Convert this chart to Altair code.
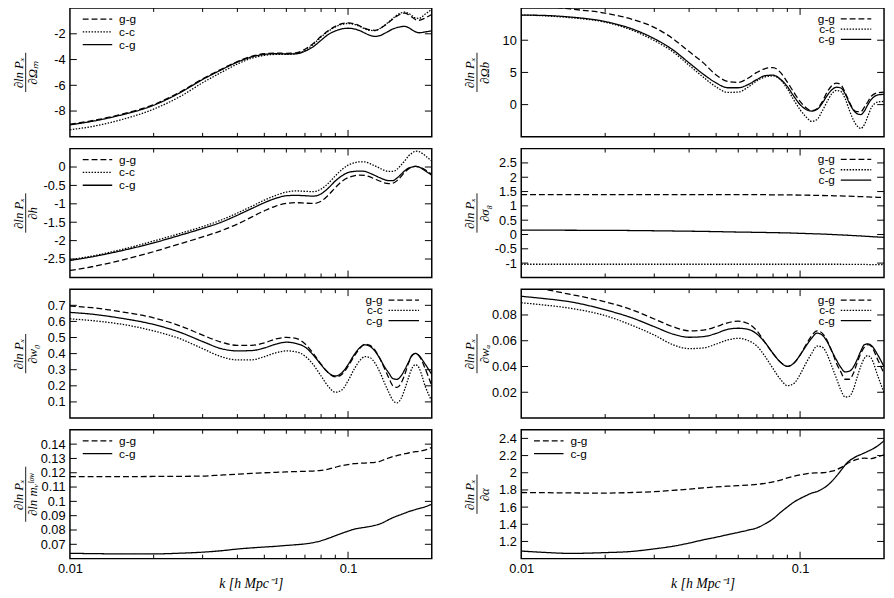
import altair as alt
import pandas as pd

K = [0.01, 0.012, 0.015, 0.02, 0.025, 0.03, 0.035, 0.04, 0.045, 0.05, 0.055, 0.06, 0.065,
     0.07, 0.075, 0.08, 0.085, 0.09, 0.095, 0.1, 0.105, 0.11, 0.115, 0.12, 0.125, 0.13,
     0.135, 0.14, 0.145, 0.15, 0.155, 0.16, 0.165, 0.17, 0.175, 0.18, 0.19, 0.2]

# d ln P / d Omega_m
OM_GG = [-9.02, -8.75, -8.3, -7.5, -6.5, -5.5, -4.75, -4.15, -3.75, -3.55, -3.5, -3.52, -3.48,
         -3.2, -2.75, -2.2, -1.75, -1.42, -1.22, -1.15, -1.22, -1.38, -1.58, -1.7, -1.73, -1.6,
         -1.38, -1.12, -0.85, -0.62, -0.45, -0.4, -0.52, -0.72, -0.9, -0.95, -0.75, -0.5]
OM_CC = [-9.45, -9.2, -8.72, -7.85, -6.85, -5.8, -5.0, -4.35, -3.9, -3.68, -3.6, -3.6, -3.55,
         -3.3, -2.82, -2.25, -1.8, -1.47, -1.27, -1.2, -1.26, -1.42, -1.62, -1.74, -1.75, -1.6,
         -1.36, -1.08, -0.8, -0.55, -0.38, -0.32, -0.42, -0.6, -0.78, -0.8, -0.45, -0.1]
OM_CG = [-9.07, -8.8, -8.35, -7.55, -6.55, -5.55, -4.8, -4.2, -3.8, -3.6, -3.55, -3.57, -3.55,
         -3.35, -3.0, -2.5, -2.05, -1.78, -1.62, -1.57, -1.62, -1.75, -1.95, -2.12, -2.2, -2.15,
         -1.98, -1.8, -1.62, -1.52, -1.45, -1.42, -1.52, -1.7, -1.85, -1.92, -1.85, -1.77]

# d ln P / d h
H_GG = [-2.81, -2.71, -2.55, -2.3, -2.08, -1.9, -1.73, -1.55, -1.36, -1.19, -1.06, -0.99, -0.97,
        -0.98, -0.99, -0.93, -0.76, -0.56, -0.39, -0.29, -0.24, -0.22, -0.23, -0.27, -0.33, -0.38,
        -0.43, -0.45, -0.44, -0.37, -0.26, -0.14, -0.05, 0.0, 0.02, 0.0, -0.08, -0.2]
H_CC = [-2.52, -2.42, -2.26, -2.01, -1.8, -1.62, -1.44, -1.25, -1.07, -0.9, -0.77, -0.68, -0.65,
        -0.66, -0.67, -0.6, -0.44, -0.24, -0.07, 0.05, 0.11, 0.14, 0.14, 0.09, 0.03, -0.03,
        -0.09, -0.12, -0.12, -0.06, 0.05, 0.17, 0.3, 0.38, 0.43, 0.42, 0.3, 0.16]
H_CG = [-2.54, -2.44, -2.29, -2.06, -1.85, -1.67, -1.5, -1.31, -1.13, -0.97, -0.85, -0.78, -0.77,
        -0.78, -0.79, -0.73, -0.57, -0.38, -0.24, -0.15, -0.12, -0.11, -0.12, -0.17, -0.23, -0.29,
        -0.34, -0.37, -0.37, -0.3, -0.2, -0.1, -0.03, 0.0, 0.02, 0.0, -0.11, -0.22]

# d ln P / d w0
W0_GG = [0.696, 0.685, 0.662, 0.622, 0.571, 0.515, 0.471, 0.451, 0.451, 0.467, 0.491, 0.501, 0.495,
         0.461, 0.401, 0.335, 0.281, 0.255, 0.271, 0.321, 0.381, 0.431, 0.459, 0.451, 0.421, 0.371,
         0.311, 0.251, 0.2, 0.19, 0.215, 0.271, 0.341, 0.387, 0.401, 0.387, 0.301, 0.2]
W0_CC = [0.616, 0.605, 0.585, 0.541, 0.491, 0.431, 0.381, 0.361, 0.361, 0.381, 0.405, 0.417, 0.411,
         0.385, 0.331, 0.261, 0.195, 0.16, 0.174, 0.231, 0.301, 0.355, 0.381, 0.375, 0.341, 0.287,
         0.221, 0.161, 0.11, 0.094, 0.12, 0.18, 0.251, 0.311, 0.331, 0.311, 0.191, 0.106]
W0_CG = [0.656, 0.645, 0.622, 0.581, 0.531, 0.475, 0.431, 0.417, 0.419, 0.435, 0.459, 0.471, 0.463,
         0.441, 0.391, 0.331, 0.281, 0.261, 0.281, 0.331, 0.391, 0.435, 0.455, 0.445, 0.415, 0.371,
         0.321, 0.281, 0.245, 0.24, 0.261, 0.301, 0.347, 0.391, 0.401, 0.387, 0.331, 0.271]

# d ln P / d ln m_nu^low
MN_GG = [0.1173, 0.1173, 0.1173, 0.1174, 0.1175, 0.1177, 0.1184, 0.119, 0.1195, 0.12, 0.1203, 0.1206,
         0.1208, 0.121, 0.1212, 0.1217, 0.1225, 0.1238, 0.125, 0.1257, 0.1263, 0.1266, 0.1268, 0.127,
         0.1273, 0.128, 0.1292, 0.1303, 0.1313, 0.132, 0.1327, 0.1333, 0.1338, 0.1343, 0.1347, 0.135,
         0.136, 0.1377]
MN_CG = [0.0637, 0.0635, 0.0633, 0.0633, 0.0638, 0.0645, 0.0655, 0.0667, 0.0675, 0.0681, 0.0686, 0.0692,
         0.0697, 0.0703, 0.0712, 0.0725, 0.0742, 0.076, 0.0777, 0.0792, 0.0805, 0.0813, 0.0819, 0.0825,
         0.0832, 0.0842, 0.0856, 0.0872, 0.0886, 0.0898, 0.0908, 0.0918, 0.0928, 0.0936, 0.0943, 0.095,
         0.0963, 0.0981]

# d ln P / d Omega_b
OB_GG = [15.6, 15.3, 14.85, 14.2, 13.25, 12.0, 10.24, 8.23, 6.48, 4.6, 3.6, 3.45, 4.1,
         5.0, 5.6, 5.75, 5.0, 3.5, 1.9, 0.5, -0.5, -0.95, -0.65, 0.45, 1.95, 2.95,
         3.35, 3.1, 1.9, 0.45, -0.7, -1.1, -1.1, -0.4, 0.45, 1.3, 1.85, 1.95]
OB_CC = [13.9, 13.8, 13.5, 12.8, 11.55, 9.95, 8.2, 6.1, 4.25, 2.75, 1.9, 1.95, 2.7,
         3.7, 4.3, 4.45, 3.85, 2.45, 0.7, -0.8, -1.9, -2.6, -2.3, -1.0, 0.45, 1.7,
         2.2, 2.05, 0.95, -0.8, -2.3, -3.3, -3.7, -3.1, -1.8, -0.5, 0.4, 0.5]
OB_CG = [13.9, 13.85, 13.6, 12.9, 11.75, 10.24, 8.5, 6.48, 4.72, 3.37, 2.62, 2.62, 3.1,
         3.9, 4.5, 4.57, 3.95, 2.8, 1.3, 0.0, -0.75, -1.0, -0.75, 0.2, 1.4, 2.3,
         2.7, 2.6, 1.7, 0.3, -0.8, -1.4, -1.55, -1.0, 0.0, 0.8, 1.5, 1.6]

# d ln P / d sigma_8
S8_GG = [1.39, 1.39, 1.39, 1.39, 1.39, 1.39, 1.39, 1.39, 1.39, 1.39, 1.39, 1.39, 1.39,
         1.39, 1.39, 1.385, 1.383, 1.381, 1.38, 1.378, 1.374, 1.37, 1.366, 1.362, 1.358, 1.354,
         1.35, 1.346, 1.342, 1.338, 1.333, 1.328, 1.323, 1.318, 1.313, 1.308, 1.3, 1.29]
S8_CC = [-1.04, -1.04, -1.04, -1.04, -1.04, -1.04, -1.04, -1.04, -1.04, -1.04, -1.04, -1.04, -1.04,
         -1.04, -1.04, -1.04, -1.04, -1.04, -1.04, -1.04, -1.04, -1.04, -1.04, -1.04, -1.04, -1.04,
         -1.04, -1.04, -1.045, -1.045, -1.045, -1.045, -1.045, -1.045, -1.05, -1.05, -1.05, -1.05]
S8_CG = [0.15, 0.15, 0.148, 0.145, 0.138, 0.13, 0.122, 0.115, 0.108, 0.1, 0.092, 0.085, 0.08,
         0.075, 0.07, 0.065, 0.06, 0.055, 0.048, 0.04, 0.034, 0.027, 0.021, 0.015, 0.008, 0.0,
         -0.008, -0.015, -0.022, -0.03, -0.038, -0.045, -0.052, -0.06, -0.067, -0.075, -0.088, -0.1]

# d ln P / d w_a
WA_GG = [0.1025, 0.1, 0.096, 0.0902, 0.084, 0.0769, 0.0709, 0.0677, 0.0682, 0.0709, 0.0739, 0.0752,
         0.0734, 0.0677, 0.0584, 0.0501, 0.0434, 0.0401, 0.0426, 0.0489, 0.0569, 0.0639, 0.0677, 0.0659,
         0.0602, 0.0519, 0.0426, 0.0358, 0.0301, 0.0301, 0.0343, 0.0426, 0.0501, 0.0551, 0.0569, 0.0556,
         0.0451, 0.0345]
WA_CC = [0.0895, 0.0878, 0.0852, 0.0795, 0.0719, 0.0644, 0.0569, 0.0539, 0.0544, 0.0574, 0.0606, 0.0619,
         0.0602, 0.0559, 0.0476, 0.0383, 0.0301, 0.0251, 0.0268, 0.0338, 0.0426, 0.0501, 0.0559, 0.0551,
         0.0494, 0.0401, 0.0308, 0.0218, 0.0163, 0.0168, 0.0218, 0.0313, 0.0401, 0.0464, 0.0484, 0.0464,
         0.0326, 0.0195]
WA_CG = [0.0945, 0.0928, 0.0902, 0.084, 0.0777, 0.0709, 0.0652, 0.0627, 0.0632, 0.0657, 0.0689, 0.0697,
         0.0689, 0.0652, 0.0584, 0.0501, 0.0434, 0.0401, 0.0426, 0.0489, 0.0559, 0.0619, 0.0659, 0.0644,
         0.0594, 0.0519, 0.0451, 0.0393, 0.0358, 0.0363, 0.0393, 0.0451, 0.0519, 0.0569, 0.0576, 0.0564,
         0.0489, 0.0398]

# d ln P / d alpha
AL_GG = [1.77, 1.768, 1.765, 1.763, 1.77, 1.78, 1.795, 1.81, 1.825, 1.835, 1.843, 1.85, 1.857,
         1.864, 1.877, 1.894, 1.915, 1.94, 1.96, 1.976, 1.988, 1.995, 1.998, 2.0, 2.007, 2.018,
         2.035, 2.06, 2.09, 2.12, 2.14, 2.156, 2.165, 2.17, 2.168, 2.165, 2.186, 2.21]
AL_CG = [1.088, 1.073, 1.061, 1.07, 1.084, 1.114, 1.144, 1.181, 1.219, 1.249, 1.279, 1.305, 1.331,
         1.358, 1.406, 1.463, 1.537, 1.601, 1.658, 1.699, 1.733, 1.763, 1.781, 1.811, 1.849, 1.901,
         1.961, 2.025, 2.089, 2.138, 2.168, 2.194, 2.212, 2.231, 2.25, 2.269, 2.314, 2.374]

X_MINOR = [0.02, 0.03, 0.04, 0.05, 0.06, 0.07, 0.08, 0.09]
X_MAJOR = [0.1]
X_LABELS = [0.01, 0.1]

DASH = {"g-g": [6, 3], "c-c": [1.5, 1.5], "c-g": [1, 0]}

LW, RW, H = 368, 369, 131
TX = -52.5   # numerator line of the stacked y title (denominator sits 15 px to the right)
BX = -45     # fraction bar


def long_df(series):
    rows = []
    for name, vals in series.items():
        for k, v in zip(K, vals):
            rows.append({"k": k, "value": v, "series": name})
    return pd.DataFrame(rows)


def panel(series, yticks, ydomain, num, den, barlen, orient, W, bottom):
    df = long_df(series)
    names = list(series.keys())
    xscale = alt.Scale(type="log", domain=[0.01, 0.2], nice=False)
    yscale = alt.Scale(domain=ydomain, nice=False, zero=False)
    dscale = alt.Scale(domain=names, range=[DASH[n] for n in names])
    if bottom:
        xaxis = alt.Axis(values=X_LABELS, format="~g", ticks=False, domain=False, grid=False,
                         labelPadding=4, labelFlush=False, title="k [h Mpc⁻¹]", titlePadding=1,
                         titleFont="Liberation Serif", titleFontSize=14, titleFontWeight="normal",
                         titleFontStyle="italic")
    else:
        xaxis = None
    yaxis = alt.Axis(values=yticks, format="~g", ticks=False, domain=False, grid=False, labelPadding=5,
                     labelExpr="replace(datum.label, '−', '-')",
                     title=[num, den], titleX=TX, titleY=H / 2, titleAngle=270,
                     titleAlign="center", titleBaseline="middle")
    if orient == "top-left":
        leg = alt.Legend(title=None, orient="none", legendX=12, legendY=6, symbolType="stroke",
                         symbolSize=900, symbolStrokeWidth=1.3, symbolStrokeColor="black",
                         clipHeight=10.5, rowPadding=0, padding=0, labelFontSize=12, labelOffset=6)
    else:
        leg = None
    lines = alt.Chart(df).mark_line(clip=True, strokeWidth=1.3, interpolate="monotone", color="black").encode(
        x=alt.X("k:Q", scale=xscale, axis=xaxis),
        y=alt.Y("value:Q", scale=yscale, axis=yaxis),
        strokeDash=alt.StrokeDash("series:N", sort=names, scale=dscale, legend=leg),
    )
    minor = pd.DataFrame({"k": X_MINOR})
    major = pd.DataFrame({"k": X_MAJOR})
    yt = pd.DataFrame({"value": yticks})
    rule = dict(color="black", strokeWidth=1)
    xenc = alt.X("k:Q", scale=xscale, axis=xaxis)
    yenc = alt.Y("value:Q", scale=yscale, axis=yaxis)
    layers = [
        lines,
        alt.Chart(minor).mark_rule(**rule).encode(x=xenc, y=alt.value(H), y2=alt.value(H - 4)),
        alt.Chart(minor).mark_rule(**rule).encode(x=xenc, y=alt.value(0), y2=alt.value(4)),
        alt.Chart(major).mark_rule(**rule).encode(x=xenc, y=alt.value(H), y2=alt.value(H - 7)),
        alt.Chart(major).mark_rule(**rule).encode(x=xenc, y=alt.value(0), y2=alt.value(7)),
        alt.Chart(yt).mark_rule(**rule).encode(y=yenc, x=alt.value(0), x2=alt.value(7)),
        alt.Chart(yt).mark_rule(**rule).encode(y=yenc, x=alt.value(W), x2=alt.value(W - 7)),
        # fraction bar of the stacked y title
        alt.Chart(pd.DataFrame({"bar": [0]})).mark_rule(color="black", strokeWidth=0.9).encode(
            x=alt.value(BX), y=alt.value(H / 2 - barlen / 2), y2=alt.value(H / 2 + barlen / 2)),
    ]
    if leg is None:
        # key in the top-right corner: label on the left, line sample on the right
        key = alt.Chart(pd.DataFrame({"series": names})).transform_window(
            row="row_number()"
        ).transform_calculate(ly="0.5 + datum.row * 10.5")
        layers.append(key.mark_rule(color="black", strokeWidth=1.3).encode(
            x=alt.value(W - 44), x2=alt.value(W - 13),
            y=alt.Y("ly:Q", scale=None, axis=None),
            strokeDash=alt.StrokeDash("series:N", sort=names, scale=dscale, legend=None),
        ))
        layers.append(key.mark_text(align="right", baseline="middle", font="Liberation Sans",
                                    fontSize=12, color="black").encode(
            x=alt.value(W - 50),
            y=alt.Y("ly:Q", scale=None, axis=None),
            text="series:N",
        ))
    return alt.layer(*layers).properties(width=W, height=H)


NUM = "∂ln Pₓ"

left = alt.vconcat(
    panel({"g-g": OM_GG, "c-c": OM_CC, "c-g": OM_CG}, [-8, -6, -4, -2], [-10, 0],
          NUM, "∂Ωₘ", 40, "top-left", LW, False),
    panel({"g-g": H_GG, "c-c": H_CC, "c-g": H_CG}, [-2.5, -2, -1.5, -1, -0.5, 0], [-3, 0.5],
          NUM, "∂h", 40, "top-left", LW, False),
    panel({"g-g": W0_GG, "c-c": W0_CC, "c-g": W0_CG}, [0.1, 0.2, 0.3, 0.4, 0.5, 0.6, 0.7], [0, 0.8],
          NUM, "∂w₀", 40, "top-right", LW, False),
    panel({"g-g": MN_GG, "c-g": MN_CG}, [0.07, 0.08, 0.09, 0.1, 0.11, 0.12, 0.13, 0.14], [0.06, 0.15],
          NUM, "∂ln mᵥˡᵒʷ", 56, "top-left", LW, True),
    spacing=8,
).resolve_scale(x="independent", y="independent", strokeDash="independent").resolve_legend(strokeDash="independent")

right = alt.vconcat(
    panel({"g-g": OB_GG, "c-c": OB_CC, "c-g": OB_CG}, [0, 5, 10], [-5, 15],
          NUM, "∂Ωb", 40, "top-right", RW, False),
    panel({"g-g": S8_GG, "c-c": S8_CC, "c-g": S8_CG}, [-1, -0.5, 0, 0.5, 1, 1.5, 2, 2.5], [-1.5, 3],
          NUM, "∂σ₈", 40, "top-right", RW, False),
    panel({"g-g": WA_GG, "c-c": WA_CC, "c-g": WA_CG}, [0.02, 0.04, 0.06, 0.08], [0, 0.1],
          NUM, "∂wₐ", 40, "top-right", RW, False),
    panel({"g-g": AL_GG, "c-g": AL_CG}, [1.2, 1.4, 1.6, 1.8, 2, 2.2, 2.4], [1.0, 2.5],
          NUM, "∂α", 40, "top-left", RW, True),
    spacing=8,
).resolve_scale(x="independent", y="independent", strokeDash="independent").resolve_legend(strokeDash="independent")

chart = alt.hconcat(left, right, spacing=29).resolve_scale(
    x="independent", y="independent", strokeDash="independent"
).resolve_legend(strokeDash="independent").properties(
    padding={"top": -7, "left": 3, "right": 0, "bottom": 0}
).configure_view(
    stroke="black", strokeWidth=1.5
).configure_axis(
    labelFont="Liberation Sans", labelFontSize=13, labelColor="black",
    titleFont="Liberation Serif", titleFontSize=13, titleColor="black", titleFontWeight="normal",
    titleFontStyle="italic", titleLineHeight=15
).configure_legend(
    labelFont="Liberation Sans", labelFontSize=12, labelColor="black"
)

chart.save("out.html", embed_options={"renderer": "svg", "actions": False})
